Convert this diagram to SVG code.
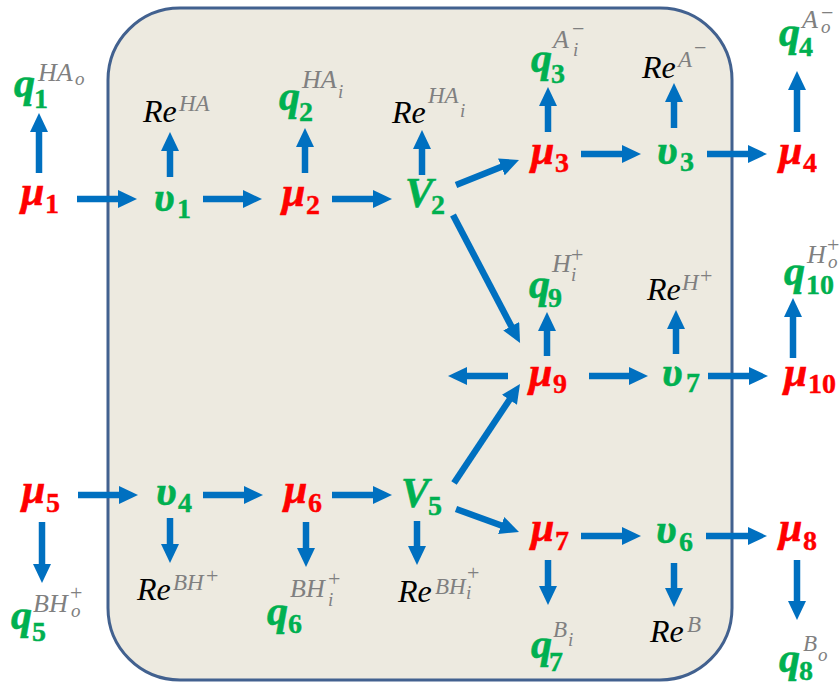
<svg xmlns="http://www.w3.org/2000/svg" width="840" height="686" viewBox="0 0 840 686">
<defs>
<marker id="ah" markerUnits="userSpaceOnUse" markerWidth="20" markerHeight="18" refX="1" refY="9" orient="auto">
<path d="M0,0 L19,9 L0,18 z" fill="#0070C0"/>
</marker>
<style>
text{font-family:"Liberation Serif","DejaVu Serif",serif;}
.v{font-size:42px;font-weight:bold;font-style:italic;stroke-width:0.6px;}
.d{font-size:28px;font-weight:bold;font-style:normal;stroke-width:0.4px;}
.r{fill:#FF0000;stroke:#FF0000;}
.g{fill:#00B050;stroke:#00B050;}
.re{font-size:32px;font-style:italic;fill:#000;}
.sp{font-size:23px;font-style:italic;fill:#808080;}
.sq{font-size:26px;font-style:italic;fill:#808080;}
.ss{font-size:19px;font-style:italic;fill:#808080;}
.op{font-size:22px;font-style:normal;fill:#808080;}
#connectors line{stroke:#0070C0;stroke-width:6.5;marker-end:url(#ah);}
</style>
</defs>
<rect id="box" x="108" y="8" width="624" height="672" rx="72" ry="72" fill="#EDEAE0" stroke="#42618F" stroke-width="3"/>

<g id="connectors">
<line x1="77" y1="199" x2="119" y2="199"/>
<line x1="203" y1="199" x2="244" y2="199"/>
<line x1="332" y1="199" x2="374" y2="199"/>
<line x1="39" y1="173" x2="39" y2="131"/>
<line x1="170" y1="177" x2="170" y2="150"/>
<line x1="305" y1="173" x2="305" y2="146"/>
<line x1="422" y1="175" x2="422" y2="148"/>
<line x1="456" y1="185" x2="502.3" y2="166.6"/>
<line x1="453" y1="215" x2="511.7" y2="327.1"/>
<line x1="581" y1="154" x2="623" y2="154"/>
<line x1="707" y1="154" x2="749" y2="154"/>
<line x1="548" y1="132" x2="548" y2="105"/>
<line x1="674" y1="128" x2="674" y2="101"/>
<line x1="797" y1="132" x2="797" y2="89"/>
<line x1="508" y1="376" x2="466" y2="376"/>
<line x1="589" y1="376" x2="630" y2="376"/>
<line x1="708" y1="376" x2="750" y2="376"/>
<line x1="547" y1="356" x2="547" y2="330"/>
<line x1="676" y1="354" x2="676" y2="328"/>
<line x1="793" y1="358" x2="793" y2="316"/>
<line x1="78" y1="495" x2="120" y2="495"/>
<line x1="203" y1="495" x2="245" y2="495"/>
<line x1="332" y1="495" x2="374" y2="495"/>
<line x1="42" y1="522" x2="42" y2="565"/>
<line x1="170" y1="518" x2="170" y2="545"/>
<line x1="306" y1="522" x2="306" y2="549"/>
<line x1="417" y1="521" x2="417" y2="547"/>
<line x1="454" y1="483" x2="510" y2="399"/>
<line x1="456" y1="509" x2="502.1" y2="525.8"/>
<line x1="581" y1="536" x2="623" y2="536"/>
<line x1="706" y1="536" x2="749" y2="536"/>
<line x1="548" y1="560" x2="548" y2="587"/>
<line x1="674" y1="563" x2="674" y2="589"/>
<line x1="797" y1="560" x2="797" y2="602"/>
</g>

<g id="q1"><text class="v g" x="14" y="97">q</text><text class="d g" x="34" y="108">1</text><text class="sq" x="38" y="81">HA</text><text class="ss" x="75" y="85">o</text></g>
<g id="mu1"><text class="v r" x="21" y="205">μ</text><text class="d r" x="45" y="213">1</text></g>
<g id="ReHA"><text class="re" x="143" y="122">Re</text><text class="sp" x="179" y="111">HA</text></g>
<g id="v1"><text class="v g" x="154" y="211">υ</text><text class="d g" x="177" y="218">1</text></g>
<g id="q2"><text class="v g" x="279" y="110">q</text><text class="d g" x="299" y="121">2</text><text class="sq" x="302" y="88">HA</text><text class="ss" x="338" y="98">i</text></g>
<g id="mu2"><text class="v r" x="282" y="206">μ</text><text class="d r" x="306" y="214">2</text></g>
<g id="ReHAi"><text class="re" x="392" y="123">Re</text><text class="sp" x="428" y="103">HA</text><text class="ss" x="460" y="117">i</text></g>
<g id="V2"><text class="v g" x="405" y="207">V</text><text class="d g" x="431" y="214">2</text></g>
<g id="q3"><text class="v g" x="531" y="72">q</text><text class="d g" x="551" y="83">3</text><text class="sq" x="553" y="48">A</text><text class="op" x="572" y="36">−</text><text class="ss" x="573" y="56">i</text></g>
<g id="mu3"><text class="v r" x="531" y="164">μ</text><text class="d r" x="555" y="172">3</text></g>
<g id="ReAm"><text class="re" x="642" y="78">Re</text><text class="sp" x="678" y="67">A</text><text class="op" x="694" y="55">−</text></g>
<g id="v3"><text class="v g" x="657" y="164">υ</text><text class="d g" x="680" y="171">3</text></g>
<g id="mu4"><text class="v r" x="779" y="164">μ</text><text class="d r" x="803" y="172">4</text></g>
<g id="q4"><text class="v g" x="779" y="46">q</text><text class="d g" x="799" y="56">4</text><text class="sq" x="802" y="28">A</text><text class="op" x="821" y="20">−</text><text class="ss" x="821" y="33">o</text></g>
<g id="q9"><text class="v g" x="529" y="298">q</text><text class="d g" x="548" y="307">9</text><text class="sq" x="552" y="272">H</text><text class="op" x="571" y="262">+</text><text class="ss" x="571" y="281">i</text></g>
<g id="mu9"><text class="v r" x="529" y="386">μ</text><text class="d r" x="553" y="393">9</text></g>
<g id="ReHp"><text class="re" x="647" y="300">Re</text><text class="sp" x="682" y="290">H</text><text class="op" x="700" y="283">+</text></g>
<g id="v7"><text class="v g" x="662" y="386">υ</text><text class="d g" x="686" y="392">7</text></g>
<g id="mu10"><text class="v r" x="784" y="386">μ</text><text class="d r" x="808" y="393">10</text></g>
<g id="q10"><text class="v g" x="784" y="285">q</text><text class="d g" x="806" y="294">10</text><text class="sq" x="807" y="263">H</text><text class="op" x="827" y="252">+</text><text class="ss" x="828" y="268">o</text></g>
<g id="mu5"><text class="v r" x="22" y="503">μ</text><text class="d r" x="46" y="512">5</text></g>
<g id="v4"><text class="v g" x="156" y="505">υ</text><text class="d g" x="178" y="512">4</text></g>
<g id="q5"><text class="v g" x="11" y="629">q</text><text class="d g" x="32" y="641">5</text><text class="sq" x="33" y="612">BH</text><text class="op" x="70" y="600">+</text><text class="ss" x="71" y="617">o</text></g>
<g id="ReBHp"><text class="re" x="137" y="600">Re</text><text class="sp" x="173" y="590">BH</text><text class="op" x="206" y="583">+</text></g>
<g id="mu6"><text class="v r" x="284" y="503">μ</text><text class="d r" x="308" y="512">6</text></g>
<g id="q6"><text class="v g" x="267" y="625">q</text><text class="d g" x="288" y="633">6</text><text class="sq" x="290" y="597">BH</text><text class="op" x="328" y="586">+</text><text class="ss" x="328" y="606">i</text></g>
<g id="V5"><text class="v g" x="401" y="507">V</text><text class="d g" x="428" y="515">5</text></g>
<g id="ReBHip"><text class="re" x="398" y="602">Re</text><text class="sp" x="435" y="594">BH</text><text class="op" x="467" y="580">+</text><text class="ss" x="466" y="599">i</text></g>
<g id="mu7"><text class="v r" x="531" y="541">μ</text><text class="d r" x="555" y="550">7</text></g>
<g id="v6"><text class="v g" x="656" y="543">υ</text><text class="d g" x="679" y="551">6</text></g>
<g id="mu8"><text class="v r" x="779" y="541">μ</text><text class="d r" x="803" y="550">8</text></g>
<g id="q7"><text class="v g" x="531" y="658">q</text><text class="d g" x="549" y="671">7</text><text class="sp" x="553" y="637">B</text><text class="ss" x="568" y="646">i</text></g>
<g id="ReB"><text class="re" x="650" y="642">Re</text><text class="sp" x="687" y="632">B</text></g>
<g id="q8"><text class="v g" x="779" y="672">q</text><text class="d g" x="799" y="680">8</text><text class="sp" x="803" y="651">B</text><text class="ss" x="818" y="661">o</text></g>
</svg>
